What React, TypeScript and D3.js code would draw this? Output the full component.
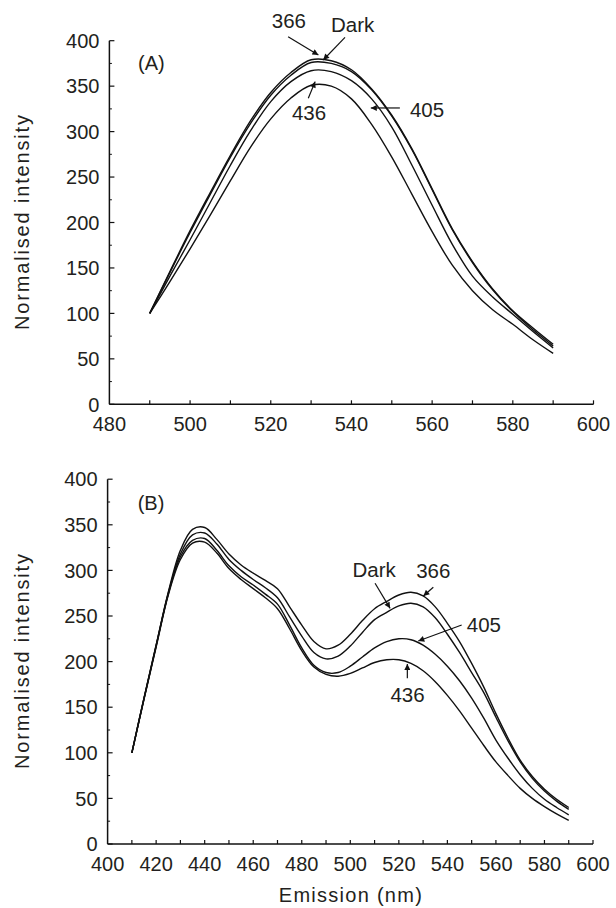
import React from 'react';
import * as d3 from 'd3';

// ---------- Data ----------
const wlA = [490, 495, 500, 505, 510, 515, 520, 525, 530, 535, 540, 545, 550, 555, 560, 565, 570, 575, 580, 585, 590];
const a366 = [100, 146, 191, 233, 274, 312, 343, 365, 379, 378, 368, 347, 318, 281, 237, 193, 157, 127, 103, 84, 66];
const aDark = [100, 145, 189, 231, 272, 309, 340, 362, 376, 375, 366, 346, 317, 280, 236, 192, 156, 126, 102, 82, 64];
const a405 = [100, 141, 181, 222, 263, 301, 333, 355, 367, 366, 356, 336, 305, 263, 219, 176, 141, 118, 99, 80, 62];
const a436 = [100, 135, 171, 208, 246, 283, 314, 337, 351, 350, 336, 308, 272, 231, 190, 153, 125, 104, 88, 71, 56];

const wlB = [410, 415, 420, 425, 430, 435, 440, 445, 450, 455, 460, 465, 470, 475, 480, 485, 490, 495, 500, 505, 510, 515, 520, 525, 530, 535, 540, 545, 550, 555, 560, 565, 570, 575, 580, 585, 590];
const b366 = [100, 160, 218, 276, 322, 345, 347, 334, 318, 306, 297, 289, 280, 260, 240, 222, 214, 218, 230, 245, 258, 266, 273, 276, 272, 260, 242, 222, 198, 172, 143, 116, 92, 74, 60, 49, 40];
const bDark = [100, 160, 218, 275, 318, 339, 341, 329, 312, 300, 290, 281, 270, 249, 228, 210, 203, 206, 217, 232, 246, 254, 261, 264, 260, 248, 230, 210, 188, 166, 139, 113, 90, 72, 58, 47, 38];
const b405 = [100, 159, 217, 274, 315, 333, 335, 322, 305, 293, 284, 274, 263, 240, 215, 196, 188, 188, 195, 205, 215, 222, 225, 224, 218, 208, 195, 179, 160, 138, 114, 94, 76, 61, 49, 40, 32];
const b436 = [100, 159, 216, 273, 312, 330, 331, 319, 302, 290, 280, 270, 258, 236, 212, 194, 186, 184, 187, 193, 199, 202, 202, 198, 190, 178, 163, 146, 127, 108, 90, 75, 61, 50, 41, 33, 26];

const yTickValues = [0, 50, 100, 150, 200, 250, 300, 350, 400];
const xTickLabelsA = [480, 500, 520, 540, 560, 580, 600];
const xTickLabelsB = [400, 420, 440, 460, 480, 500, 520, 540, 560, 580, 600];

// annotations in data units: text position and arrow from -> to
const annA = [
  { label: '366', tx: 524.5, ty: 414, anchor: 'middle', x1: 524.3, y1: 404.4, x2: 531.8, y2: 384.3 },
  { label: 'Dark', tx: 540.3, ty: 409.6, anchor: 'middle', x1: 538.4, y1: 403.7, x2: 533.0, y2: 378.8 },
  { label: '436', tx: 529.5, ty: 312.8, anchor: 'middle', x1: 529.3, y1: 336.6, x2: 531.0, y2: 355.0 },
  { label: '405', tx: 554.5, ty: 316, anchor: 'start', x1: 552.0, y1: 326, x2: 544.8, y2: 326 },
];
const annB = [
  { label: 'Dark', tx: 509.8, ty: 292.8, anchor: 'middle', x1: 510.2, y1: 285.9, x2: 516.4, y2: 258.4 },
  { label: '366', tx: 534.2, ty: 291.3, anchor: 'middle', x1: 534.2, y1: 281.5, x2: 530.1, y2: 271.9 },
  { label: '405', tx: 548, ty: 232.8, anchor: 'start', x1: 545.9, y1: 240.1, x2: 528.0, y2: 222.6 },
  { label: '436', tx: 523.6, ty: 156, anchor: 'middle', x1: 523.5, y1: 181.7, x2: 523.5, y2: 197.4 },
];

const FONT = '"Liberation Sans", Arial, Helvetica, sans-serif';
const TEXT = '#231f20';

type Ann = { label: string; tx: number; ty: number; anchor: string; x1: number; y1: number; x2: number; y2: number };

function Panel(props: {
  xDomain: [number, number];
  xRange: [number, number];
  yRange: [number, number];
  wl: number[];
  series: number[][];
  xLabels: number[];
  ann: Ann[];
  tag: string;
  tagPos: [number, number];
  showXTitle: boolean;
}) {
  const { xDomain, xRange, yRange, wl, series, xLabels, ann, tag, tagPos, showXTitle } = props;
  const x = d3.scaleLinear().domain(xDomain).range(xRange);
  const y = d3.scaleLinear().domain([0, 400]).range(yRange);
  const line = d3
    .line<number>()
    .x((_, i) => x(wl[i]))
    .y((d) => y(d))
    .curve(d3.curveCatmullRom.alpha(0.5));
  const minorX = d3.range(xDomain[0] + 10, xDomain[1] + 1, 10);
  const minorY = d3.range(25, 400, 50);
  const x0 = x(xDomain[0]);
  const y0 = y(0);
  const midY = (y(0) + y(400)) / 2;
  const midX = (x(xDomain[0]) + x(xDomain[1])) / 2;
  return (
    <g>
      <line x1={x0} x2={x0} y1={y(400)} y2={y0} stroke="#111" strokeWidth={1.5} />
      <line x1={x0} x2={x(xDomain[1])} y1={y0} y2={y0} stroke="#111" strokeWidth={1.5} />
      {yTickValues.map((t) => (
        <g key={'yt' + t}>
          <line x1={x0} x2={x0 + 5} y1={y(t)} y2={y(t)} stroke="#111" strokeWidth={1.2} />
          <text
            x={x0 - 10}
            y={y(t)}
            dy="0.36em"
            textAnchor="end"
            fontFamily={FONT}
            fontSize={20}
            fill={TEXT}
          >
            {t}
          </text>
        </g>
      ))}
      {minorY.map((t) => (
        <line key={'ym' + t} x1={x0} x2={x0 + 2.5} y1={y(t)} y2={y(t)} stroke="#111" strokeWidth={1} />
      ))}
      {minorX.map((t) => (
        <line key={'xm' + t} x1={x(t)} x2={x(t)} y1={y0} y2={y0 - 4} stroke="#111" strokeWidth={1.2} />
      ))}
      {xLabels.map((t) => (
        <text
          key={'xl' + t}
          x={x(t)}
          y={y0 + 27}
          textAnchor="middle"
          fontFamily={FONT}
          fontSize={20}
          fill={TEXT}
        >
          {t}
        </text>
      ))}
      <text
        transform={`translate(28.5, ${midY}) rotate(-90)`}
        textAnchor="middle"
        fontFamily={FONT}
        fontSize={20}
        fill={TEXT}
        textLength={215}
        lengthAdjust="spacing"
      >
        Normalised intensity
      </text>
      {showXTitle && (
        <text
          x={midX}
          y={902}
          textAnchor="middle"
          fontFamily={FONT}
          fontSize={20}
          fill={TEXT}
          textLength={143}
          lengthAdjust="spacing"
        >
          Emission (nm)
        </text>
      )}
      <text x={x(tagPos[0])} y={y(tagPos[1])} fontFamily={FONT} fontSize={20} fill={TEXT}>
        {tag}
      </text>
      {series.map((s, i) => (
        <path key={'s' + i} d={line(s) || ''} fill="none" stroke="#111" strokeWidth={1.4} />
      ))}
      {ann.map((a) => (
        <g key={'a' + a.label}>
          <text
            x={x(a.tx)}
            y={y(a.ty)}
            textAnchor={a.anchor as any}
            fontFamily={FONT}
            fontSize={20.5}
            fill={TEXT}
          >
            {a.label}
          </text>
          <line
            x1={x(a.x1)}
            y1={y(a.y1)}
            x2={x(a.x2)}
            y2={y(a.y2)}
            stroke="#111"
            strokeWidth={1.2}
            markerEnd="url(#arrowhead)"
          />
        </g>
      ))}
    </g>
  );
}

export default function App() {
  return (
    <svg
      width={616}
      height={908}
      viewBox="0 0 616 908"
      style={{ position: 'absolute', left: 0, top: 0, background: '#fff' }}
    >
      <defs>
        <marker
          id="arrowhead"
          viewBox="0 0 10 10"
          refX={10}
          refY={5}
          markerWidth={7}
          markerHeight={6}
          markerUnits="userSpaceOnUse"
          orient="auto"
        >
          <path d="M0,0 L10,5 L0,10 z" fill="#111" />
        </marker>
      </defs>
      <rect x={0} y={0} width={616} height={908} fill="#fff" />
      <Panel
        xDomain={[480, 600]}
        xRange={[109.4, 593.5]}
        yRange={[404.3, 40.7]}
        wl={wlA}
        series={[a366, aDark, a405, a436]}
        xLabels={xTickLabelsA}
        ann={annA}
        tag="(A)"
        tagPos={[487.1, 367.8]}
        showXTitle={false}
      />
      <Panel
        xDomain={[400, 600]}
        xRange={[107.6, 593]}
        yRange={[844, 479.2]}
        wl={wlB}
        series={[b366, bDark, b405, b436]}
        xLabels={xTickLabelsB}
        ann={annB}
        tag="(B)"
        tagPos={[412.4, 366.2]}
        showXTitle={true}
      />
    </svg>
  );
}
